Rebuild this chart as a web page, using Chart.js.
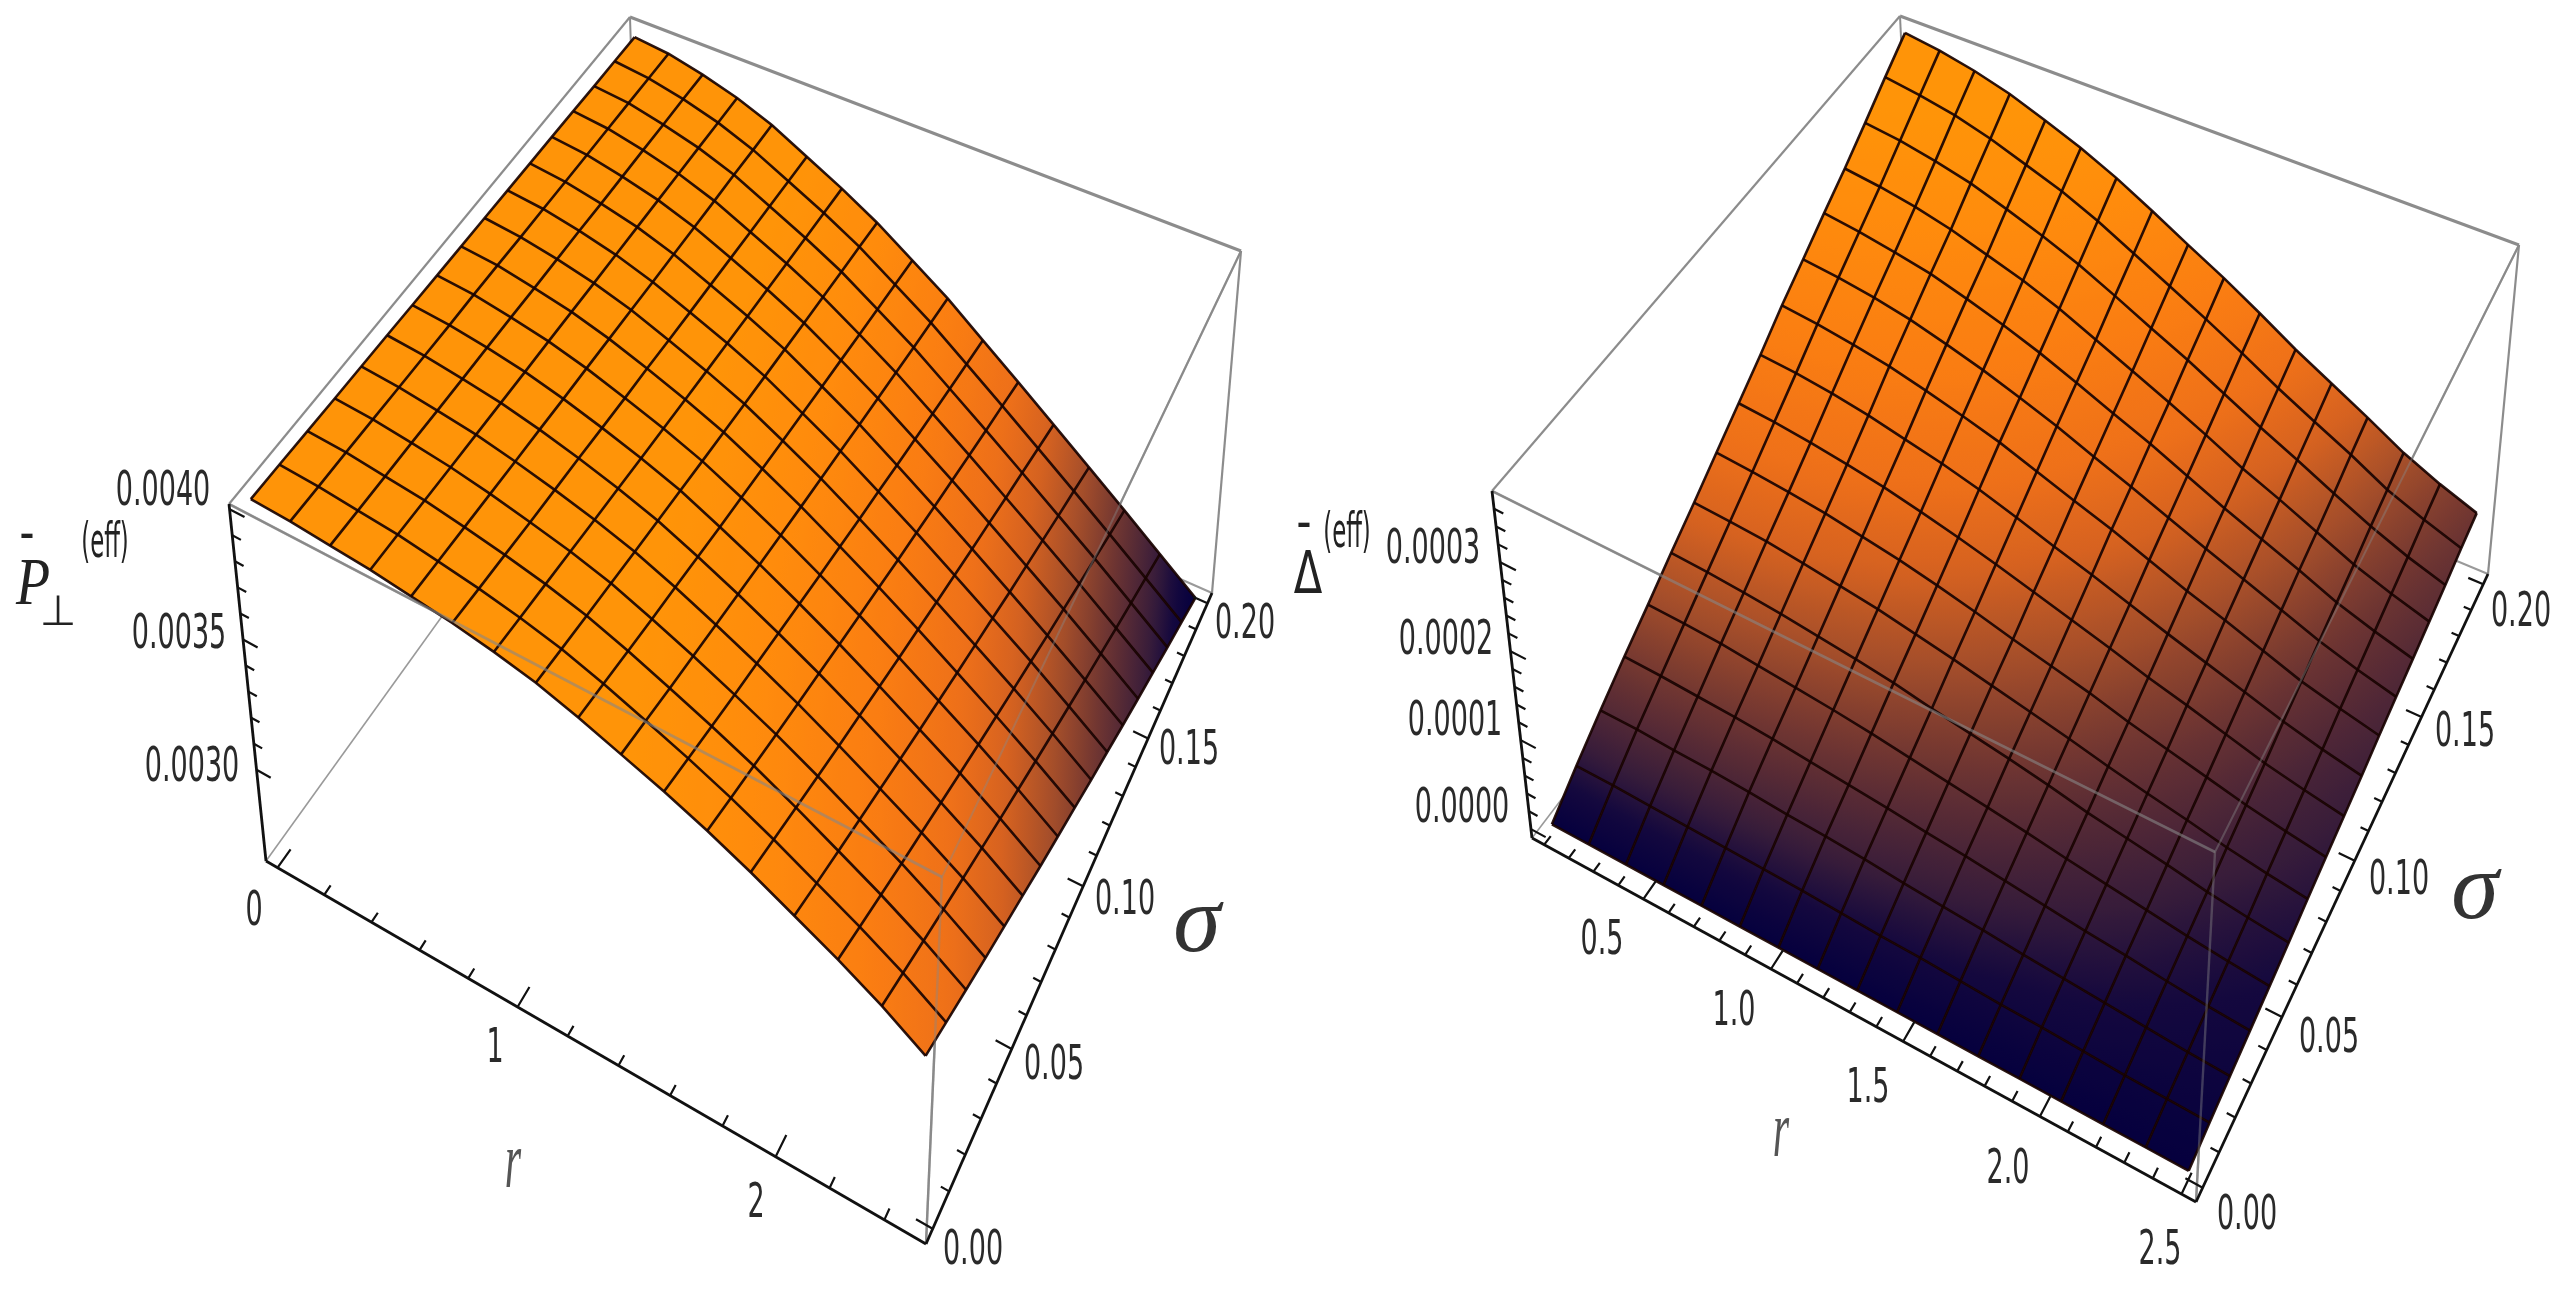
<!DOCTYPE html>
<html><head><meta charset="utf-8">
<script src="https://cdn.jsdelivr.net/npm/chart.js@4"></script>
<style>
html,body{margin:0;padding:0;background:#fff;width:2562px;height:1293px;overflow:hidden}
canvas{position:absolute;top:0;filter:blur(0.75px)}
#c1{left:0}#c2{left:1281px}
</style></head><body>
<canvas id="c1" width="1281" height="1293"></canvas>
<canvas id="c2" width="1281" height="1293"></canvas>
<script>
// ---------- data ----------
const sigmaGrid=[0,.0125,.025,.0375,.05,.0625,.075,.0875,.1,.1125,.125,.1375,.15,.1625,.175,.1875,.2];
const rGridLeft=[0,.15625,.3125,.46875,.625,.78125,.9375,1.09375,1.25,1.40625,1.5625,1.71875,1.875,2.03125,2.1875,2.34375,2.5];
const rGridRight=[.1,.25,.4,.55,.7,.85,1,1.15,1.3,1.45,1.6,1.75,1.9,2.05,2.2,2.35,2.5];
// P-bar-perp (eff), units of 1e-3; one row per sigma, one column per r
const pRow0=[4.020,4.013,3.999,3.986,3.965,3.945,3.917,3.883,3.835,3.780,3.725,3.664,3.595,3.520,3.445,3.362,3.267];
const pRow1=[4.018,4.009,3.994,3.980,3.956,3.931,3.900,3.862,3.811,3.753,3.694,3.629,3.557,3.479,3.402,3.317,3.221];
const pRow2=[4.015,4.007,3.990,3.973,3.947,3.918,3.884,3.842,3.787,3.726,3.663,3.595,3.520,3.440,3.360,3.273,3.176];
const pRow3=[4.012,4.004,3.986,3.966,3.938,3.904,3.868,3.823,3.764,3.701,3.633,3.562,3.484,3.402,3.319,3.230,3.132];
const pRow4=[4.010,4.000,3.981,3.960,3.929,3.893,3.852,3.804,3.743,3.676,3.605,3.530,3.449,3.365,3.280,3.189,3.090];
const pRow5=[4.008,3.997,3.977,3.954,3.921,3.882,3.837,3.786,3.721,3.651,3.577,3.499,3.416,3.328,3.241,3.149,3.049];
const pRow6=[4.005,3.994,3.974,3.948,3.912,3.869,3.822,3.768,3.699,3.627,3.549,3.468,3.382,3.292,3.203,3.108,3.007];
const pRow7=[4.003,3.993,3.970,3.943,3.905,3.857,3.807,3.750,3.679,3.604,3.522,3.438,3.349,3.258,3.166,3.070,2.968];
const pRow8=[4.001,3.990,3.965,3.937,3.897,3.847,3.793,3.733,3.659,3.581,3.496,3.409,3.318,3.224,3.130,3.032,2.930];
const pRow9=[3.999,3.986,3.962,3.931,3.889,3.835,3.779,3.716,3.639,3.559,3.470,3.380,3.286,3.191,3.095,2.995,2.891];
const pRow10=[3.997,3.984,3.959,3.926,3.881,3.824,3.766,3.700,3.620,3.538,3.446,3.353,3.256,3.159,3.061,2.959,2.855];
const pRow11=[3.995,3.981,3.954,3.921,3.874,3.814,3.752,3.684,3.601,3.516,3.421,3.325,3.226,3.126,3.026,2.923,2.818];
const pRow12=[3.993,3.979,3.951,3.916,3.867,3.804,3.740,3.668,3.583,3.495,3.397,3.299,3.198,3.096,2.994,2.889,2.783];
const pRow13=[3.991,3.977,3.948,3.911,3.860,3.794,3.727,3.653,3.565,3.475,3.374,3.273,3.169,3.066,2.962,2.855,2.749];
const pRow14=[3.988,3.975,3.944,3.906,3.854,3.785,3.715,3.638,3.547,3.455,3.351,3.247,3.142,3.036,2.931,2.823,2.715];
const pRow15=[3.987,3.972,3.942,3.901,3.846,3.775,3.703,3.624,3.530,3.436,3.329,3.223,3.115,3.008,2.900,2.791,2.683];
const pRow16=[3.985,3.970,3.938,3.896,3.840,3.765,3.691,3.609,3.513,3.417,3.307,3.198,3.088,2.979,2.870,2.759,2.650];
// Delta-bar (eff), units of 1e-4
const dRow0=[0,0,0,0,0,0,0,0,0,0,0,0,0,0,0,0,0];
const dRow1=[.26,.26,.25,.24,.23,.22,.21,.19,.17,.16,.14,.12,.11,.09,.07,.06,.05];
const dRow2=[.50,.50,.48,.47,.45,.42,.40,.37,.33,.30,.27,.23,.20,.17,.14,.11,.09];
const dRow3=[.73,.72,.70,.68,.65,.61,.57,.53,.48,.44,.39,.34,.29,.25,.20,.16,.13];
const dRow4=[.95,.94,.92,.88,.84,.80,.75,.69,.63,.57,.51,.44,.38,.32,.26,.21,.17];
const dRow5=[1.18,1.16,1.13,1.09,1.04,.99,.93,.85,.78,.71,.63,.54,.47,.40,.32,.26,.21];
const dRow6=[1.40,1.38,1.35,1.30,1.24,1.18,1.10,1.02,.93,.84,.75,.65,.56,.48,.39,.32,.26];
const dRow7=[1.63,1.60,1.56,1.51,1.44,1.37,1.28,1.18,1.07,.97,.87,.75,.65,.55,.45,.37,.30];
const dRow8=[1.86,1.83,1.78,1.72,1.65,1.56,1.46,1.35,1.23,1.11,.99,.86,.75,.63,.51,.42,.34];
const dRow9=[2.09,2.06,2.01,1.94,1.85,1.76,1.65,1.52,1.38,1.25,1.11,.97,.84,.71,.58,.47,.38];
const dRow10=[2.34,2.30,2.24,2.17,2.07,1.96,1.84,1.69,1.54,1.40,1.24,1.08,.94,.79,.64,.53,.43];
const dRow11=[2.56,2.52,2.46,2.38,2.27,2.15,2.01,1.86,1.69,1.53,1.36,1.19,1.03,.87,.71,.58,.47];
const dRow12=[2.79,2.74,2.67,2.59,2.47,2.34,2.19,2.02,1.84,1.67,1.48,1.29,1.12,.95,.77,.63,.51];
const dRow13=[3.01,2.96,2.89,2.79,2.66,2.53,2.37,2.18,1.99,1.80,1.60,1.39,1.21,1.02,.83,.68,.55];
const dRow14=[3.25,3.20,3.12,3.02,2.88,2.73,2.56,2.36,2.15,1.95,1.73,1.51,1.31,1.10,.90,.73,.59];
const dRow15=[3.50,3.44,3.36,3.24,3.09,2.94,2.75,2.53,2.31,2.09,1.86,1.62,1.40,1.19,.96,.79,.64];
const dRow16=[3.74,3.68,3.59,3.47,3.31,3.14,2.94,2.71,2.47,2.24,1.99,1.73,1.50,1.27,1.03,.84,.68];
const pTicksZ=['0.0040','0.0035','0.0030'];
const pTicksR=['0','1','2'];
const dTicksZ=['0.0003','0.0002','0.0001','0.0000'];
const dTicksR=['0.5','1.0','1.5','2.0','2.5'];
const ticksSigma=['0.00','0.05','0.10','0.15','0.20'];

// ---------- view of each 3D box (camera calibration, not data) ----------
const viewLeft={A:[229,504],B:[630,17],C:[1241,251],D:[942,877],E:[266,861],F:[926,1244],G:[1212,593],H:[640,341],
  ku:1.10,kv:.82,r:[-.05,2.55],s:[-.004,.204],z:[2.65,4.02],tGain:1.22,
  rMinor:[0,.2,.4,.6,.8,1,1.2,1.4,1.6,1.8,2,2.2,2.4],rMajor:[0,1,2],
  zMinor:[3,3.1,3.2,3.3,3.4,3.5,3.6,3.7,3.8,3.9,4],zMajor:[3,3.5,4],xMin:0};
const viewRight={A:[1492,491],B:[1900,16],C:[2519,245],D:[2215,852],E:[1532,838],F:[2196,1202],G:[2488,574],H:[1915,335],
  ku:1.09,kv:.84,r:[.05,2.55],s:[-.004,.204],z:[-.1,3.8],tGain:1.12,
  rMinor:[.1,.2,.3,.4,.5,.6,.7,.8,.9,1,1.1,1.2,1.3,1.4,1.5,1.6,1.7,1.8,1.9,2,2.1,2.2,2.3,2.4,2.5],rMajor:[.5,1,1.5,2,2.5],
  zMinor:[0,.2,.4,.6,.8,1,1.2,1.4,1.6,1.8,2,2.2,2.4,2.6,2.8,3,3.2,3.4,3.6],zMajor:[0,1,2,3],xMin:1281};
const sigmaMinor=[0,.01,.02,.03,.04,.05,.06,.07,.08,.09,.1,.11,.12,.13,.14,.15,.16,.17,.18,.19,.2];
const sigmaMajor=[0,.05,.1,.15,.2];

const labelFont='"DejaVu Sans"';
const layoutLeft=[
 [pTicksZ[0],163,493],[pTicksZ[1],179,636],[pTicksZ[2],192,769],
 [pTicksR[0],254,913],[pTicksR[1],495,1050],[pTicksR[2],756,1205],
 [ticksSigma[0],973,1252],[ticksSigma[1],1054,1067],[ticksSigma[2],1125,902],[ticksSigma[3],1189,752],[ticksSigma[4],1245,626]];
const layoutRight=[
 [dTicksZ[0],1433,551],[dTicksZ[1],1446,642],[dTicksZ[2],1455,723],[dTicksZ[3],1462,810],
 [dTicksR[0],1602,942],[dTicksR[1],1734,1013],[dTicksR[2],1868,1090],[dTicksR[3],2008,1171],[dTicksR[4],2160,1252],
 [ticksSigma[0],2247,1217],[ticksSigma[1],2329,1040],[ticksSigma[2],2399,882],[ticksSigma[3],2465,734],[ticksSigma[4],2521,614]];
const titlesLeft=[
 ['σ',1197,926,'italic 96px "Liberation Serif"',1.0,1,'#333'],
 ['r',513,1166,'italic 60px "Liberation Serif"',.7,1.35,'#555'],
 ['P',33,586,'italic 62px "Liberation Serif"',.9,1.1,'#222'],
 ['⊥',58,614,'42px "DejaVu Sans"',1,1,'#222'],
 ['-',27,537,'bold 30px "DejaVu Sans"',1.2,1,'#222'],
 ['(eff)',105,545,'24px "DejaVu Sans"',.95,2.0,'#222']];
const titlesRight=[
 ['σ',2475,893,'italic 96px "Liberation Serif"',1.0,1,'#333'],
 ['r',1781,1135,'italic 60px "Liberation Serif"',.7,1.35,'#555'],
 ['Δ',1308,578,'58px "DejaVu Sans"',.72,1.0,'#222'],
 ['-',1304,526,'bold 30px "DejaVu Sans"',1.2,1,'#222'],
 ['(eff)',1347,535,'24px "DejaVu Sans"',.95,2.0,'#222']];

// ---------- helpers ----------
const paletteStops=[[0,[5,0,62]],[.05,[20,8,62]],[.1,[55,28,58]],[.2,[108,52,50]],[.3,[165,78,42]],[.4,[214,98,32]],[.5,[238,112,25]],[.65,[250,125,18]],[.85,[255,140,12]],[1,[255,148,8]]];
function palette(t){t=Math.max(0,Math.min(1,t));
  for(let i=1;i<paletteStops.length;i++){const [a,ca]=paletteStops[i-1],[b,cb]=paletteStops[i];
    if(t<=b){const f=(t-a)/(b-a);return `rgb(${ca.map((c,k)=>Math.round(c+(cb[k]-c)*f)).join(',')})`;}}
  return 'rgb(255,148,8)';}
function warp(q,k){return q/(q+k*(1-q));}
function project(v,r,s,z){
  const u=warp((r-v.r[0])/(v.r[1]-v.r[0]),v.ku), w=warp((s-v.s[0])/(v.s[1]-v.s[0]),v.kv), h=(z-v.z[0])/(v.z[1]-v.z[0]);
  const bil=(a,b,c,d,i)=>(1-u)*(1-w)*a[i]+u*(1-w)*b[i]+u*w*c[i]+(1-u)*w*d[i];
  const pt=i=>{const t=bil(v.A,v.D,v.C,v.B,i),b=bil(v.E,v.F,v.G,v.H,i);return b+(t-b)*h;};
  return {x:pt(0),y:pt(1)};
}
const line=(pts,color,width,extra)=>Object.assign({data:pts,borderColor:color,borderWidth:width,pointRadius:0,fill:false,tension:0,spanGaps:false,clip:false},extra||{});
const GAP={x:NaN,y:NaN};

function cellFill(ctx){
  const ds=ctx.dataset,chart=ctx.chart;
  if(!chart.chartArea||!chart.scales.x) return palette(ds.cellT[0]);
  const X=chart.scales.x,Y=chart.scales.y,P=ds.data.slice(0,4).map(p=>[X.getPixelForValue(p.x),Y.getPixelForValue(p.y)]),T=ds.cellT;
  const cx=P.reduce((a,p)=>a+p[0],0)/4,cy=P.reduce((a,p)=>a+p[1],0)/4,tc=T.reduce((a,b)=>a+b,0)/4;
  let sxx=0,sxy=0,syy=0,sxt=0,syt=0;
  P.forEach((p,i)=>{const dx=p[0]-cx,dy=p[1]-cy,dt=T[i]-tc;sxx+=dx*dx;sxy+=dx*dy;syy+=dy*dy;sxt+=dx*dt;syt+=dy*dt;});
  const det=sxx*syy-sxy*sxy,gx=(sxt*syy-syt*sxy)/det,gy=(syt*sxx-sxt*sxy)/det,g2=gx*gx+gy*gy;
  if(!(g2>1e-12)) return palette(tc);
  const fit=P.map(p=>tc+gx*(p[0]-cx)+gy*(p[1]-cy)),lo=Math.min(...fit),hi=Math.max(...fit);
  const gr=chart.ctx.createLinearGradient(cx+gx*(lo-tc)/g2,cy+gy*(lo-tc)/g2,cx+gx*(hi-tc)/g2,cy+gy*(hi-tc)/g2);
  for(let i=0;i<=6;i++) gr.addColorStop(i/6,palette(lo+(hi-lo)*i/6));
  return gr;
}

function buildPanel(canvasId,view,rGrid,rows,layout,titles){
  const zs=rows.flat(),zMin=Math.min(...zs),zMax=Math.max(...zs);
  const tOf=z=>(z-zMin)/(zMax-zMin)*view.tGain;
  const P=(i,j)=>project(view,rGrid[i],sigmaGrid[j],rows[j][i]);
  const layers=[];
  const at=(r,s,z)=>project(view,r,s,z);
  const [r0,r1]=view.r,[s0,s1]=view.s,[z0,z1]=view.z;
  const gray='#8c8c8c',see='rgba(135,135,135,0.42)';
  // box edges that lie behind the surface
  layers.push(line([at(r0,s0,z0),at(r0,s1,z0)],'#9a9a9a',1.6));
  layers.push(line([at(r0,s1,z0),at(r1,s1,z0)],'#9a9a9a',2));
  layers.push(line([at(r0,s1,z1),at(r0,s1,z0)],gray,2));
  layers.push(line([at(r1,s1,z1),at(r1,s0,z1)],gray,2.2));
  layers.push(line([at(r1,s0,z1),at(r1,s0,z0)],gray,2.4));
  layers.push(line([at(r1,s0,z1),at(r0,s0,z1)],gray,2.4));
  // surface cells
  for(let j=0;j<16;j++)for(let i=0;i<16;i++){
    const a=P(i,j),b=P(i+1,j),c=P(i+1,j+1),d=P(i,j+1);
    layers.push({data:[a,b,c,d,a],fill:'shape',borderWidth:0,pointRadius:0,tension:0,clip:false,
      cellT:[tOf(rows[j][i]),tOf(rows[j][i+1]),tOf(rows[j+1][i+1]),tOf(rows[j+1][i])],backgroundColor:cellFill});
  }
  // mesh
  const meshCol='rgba(24,2,0,0.92)';
  for(let j=0;j<=16;j++){const pts=[];for(let i=0;i<=16;i++)pts.push(P(i,j));layers.push(line(pts,meshCol,2.6));}
  for(let i=0;i<=16;i++){const pts=[];for(let j=0;j<=16;j++)pts.push(P(i,j));layers.push(line(pts,meshCol,2.6));}
  // box edges in front of the surface (faint where they cross it)
  layers.push(line([at(r0,s0,z1),at(r0,s1,z1)],gray,2.2));
  layers.push(line([at(r0,s1,z1),at(r1,s1,z1)],gray,3));
  layers.push(line([at(r1,s1,z1),at(r1,s1,z0)],gray,2.2));
  layers.push(line([at(r1,s1,z1),at(r1,s0,z1)],see,2));
  layers.push(line([at(r1,s0,z1),at(r0,s0,z1)],'rgba(135,135,135,0.6)',2.6));
  layers.push(line([at(r1,s0,z1),at(r1,s0,z0)],see,2.4));
  // axes
  const ink='#111';
  layers.push(line([at(r0,s0,z1),at(r0,s0,z0)],ink,2.8));
  layers.push(line([at(r0,s0,z0),at(r1,s0,z0)],ink,2.8));
  layers.push(line([at(r1,s0,z0),at(r1,s1,z0)],ink,2.8));
  const ticks=[];
  const has=(arr,v)=>arr.some(q=>Math.abs(q-v)<1e-6);
  view.rMinor.forEach(r=>{const d=has(view.rMajor,r)?.006:.003;ticks.push(at(r,s0,z0),at(r,s0+d,z0),GAP);});
  sigmaMinor.forEach(s=>{const d=has(sigmaMajor,s)?.06:.03;ticks.push(at(r1,s,z0),at(r1-d,s,z0),GAP);});
  view.zMinor.forEach(z=>{const d=has(view.zMajor,z)?.06:.035;ticks.push(at(r0,s0,z),at(r0+d,s0,z),GAP);});
  layers.push(line(ticks,ink,2.2));
  const textPlugin={id:'text3d',afterDraw(chart){
    const c=chart.ctx,X=chart.scales.x,Y=chart.scales.y;
    const put=(t,x,y,font,sx,sy,col)=>{c.save();c.translate(X.getPixelForValue(x),Y.getPixelForValue(y));c.scale(sx,sy);
      c.font=font;c.fillStyle=col;c.textAlign='center';c.textBaseline='middle';c.fillText(t,0,0);c.restore();};
    layout.forEach(l=>put(l[0],l[1],l[2],'30px '+labelFont,.9,1.6,'#2a2a2a'));
    titles.forEach(l=>put(l[0],l[1],l[2],l[3],l[4],l[5],l[6]));
  }};
  new Chart(document.getElementById(canvasId),{
    type:'line',
    data:{datasets:layers.reverse()},
    options:{responsive:false,animation:false,devicePixelRatio:1,events:[],
      layout:{padding:0},
      plugins:{legend:{display:false},tooltip:{enabled:false},title:{display:false}},
      scales:{x:{type:'linear',display:false,min:view.xMin,max:view.xMin+1281},
              y:{type:'linear',display:false,reverse:true,min:0,max:1293}}},
    plugins:[textPlugin]});
}
const pRows=[pRow0,pRow1,pRow2,pRow3,pRow4,pRow5,pRow6,pRow7,pRow8,pRow9,pRow10,pRow11,pRow12,pRow13,pRow14,pRow15,pRow16];
const dRows=[dRow0,dRow1,dRow2,dRow3,dRow4,dRow5,dRow6,dRow7,dRow8,dRow9,dRow10,dRow11,dRow12,dRow13,dRow14,dRow15,dRow16];
buildPanel('c1',viewLeft,rGridLeft,pRows,layoutLeft,titlesLeft);
buildPanel('c2',viewRight,rGridRight,dRows,layoutRight,titlesRight);
</script>
</body></html>
